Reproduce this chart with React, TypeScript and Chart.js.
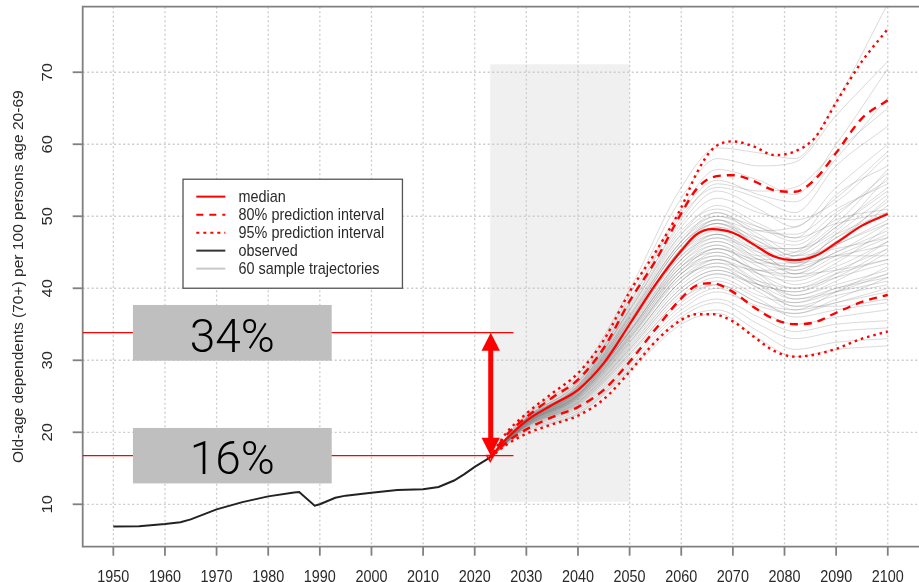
import { useEffect, useRef } from "react";
import { Chart, registerables } from "chart.js";

Chart.register(...registerables);

// ---------- data ----------
const observedYears = [1950, 1955, 1960, 1963, 1965, 1970, 1975, 1980, 1985, 1986, 1989, 1990, 1993, 1995, 2000, 2005, 2010, 2013, 2016, 2018, 2020, 2023];
const observedValues = [6.9, 6.95, 7.25, 7.5, 7.9, 9.3, 10.3, 11.1, 11.65, 11.7, 9.8, 10.0, 10.9, 11.2, 11.6, 12.0, 12.1, 12.4, 13.3, 14.2, 15.2, 16.5];

const projYears = [2023, 2026, 2030, 2035, 2040, 2045, 2050, 2055, 2060, 2063, 2066, 2070, 2074, 2078, 2082, 2086, 2090, 2095, 2100];
const medianValues = [16.5, 19.0, 21.6, 23.8, 25.9, 29.6, 35.0, 40.5, 45.2, 47.5, 48.2, 47.7, 46.1, 44.4, 43.9, 44.5, 46.3, 48.7, 50.3];
const upper95Values = [16.5, 19.8, 22.6, 25.4, 28.2, 32.8, 39.5, 45.0, 51.2, 56.0, 59.3, 60.4, 59.7, 58.5, 59.0, 61.0, 65.8, 71.5, 76.0];
const upper80Values = [16.5, 19.5, 22.1, 24.8, 27.3, 31.7, 38.2, 43.8, 50.4, 53.8, 55.4, 55.7, 54.9, 53.6, 53.4, 55.2, 58.8, 63.6, 66.1];
const lower80Values = [16.5, 18.5, 20.4, 22.1, 23.5, 25.9, 29.8, 34.3, 38.6, 40.4, 40.7, 39.5, 37.4, 35.7, 35.0, 35.3, 36.6, 38.1, 39.1];
const lower95Values = [16.5, 18.2, 19.8, 21.1, 22.3, 24.6, 28.4, 32.6, 35.6, 36.4, 36.4, 35.4, 33.3, 31.3, 30.5, 30.8, 31.6, 33.0, 34.0];

const trajYears = [2023, 2030, 2040, 2050, 2060, 2067, 2075, 2082, 2090, 2100];
const sampleTrajectories = [
  [16.5, 22.6, 27.9, 39.8, 54.0, 59.5, 58.8, 58.0, 66.0, 79.5],
  [16.5, 22.4, 27.5, 39.0, 52.5, 58.0, 57.0, 57.5, 64.0, 71.5],
  [16.5, 22.3, 27.2, 38.5, 51.0, 56.5, 55.0, 53.0, 60.0, 70.5],
  [16.5, 22.1, 26.8, 37.8, 50.0, 54.0, 52.5, 50.5, 57.0, 62.5],
  [16.5, 22.0, 26.9, 37.5, 49.0, 53.5, 51.0, 48.5, 54.0, 60.0],
  [16.5, 21.9, 26.5, 37.0, 48.5, 52.5, 50.5, 49.5, 52.0, 58.5],
  [16.5, 21.9, 26.4, 36.8, 48.0, 51.0, 48.5, 46.5, 50.5, 55.0],
  [16.5, 21.8, 26.3, 36.5, 47.5, 51.5, 49.0, 47.0, 53.0, 57.0],
  [16.5, 21.8, 26.2, 36.3, 47.0, 50.0, 47.5, 45.0, 48.5, 53.5],
  [16.5, 21.7, 26.0, 36.0, 46.5, 50.5, 48.0, 47.5, 51.0, 54.5],
  [16.5, 21.7, 26.1, 35.8, 46.0, 49.5, 46.5, 44.0, 47.0, 52.0],
  [16.5, 21.7, 25.9, 35.5, 46.0, 49.0, 47.0, 46.0, 49.5, 51.0],
  [16.5, 21.6, 25.8, 35.3, 45.5, 48.5, 45.5, 43.5, 46.0, 49.5],
  [16.5, 21.6, 25.7, 35.2, 45.5, 49.0, 46.0, 45.5, 48.0, 55.5],
  [16.5, 21.6, 25.8, 35.0, 45.0, 48.0, 45.0, 42.5, 45.0, 48.0],
  [16.5, 21.5, 25.6, 34.8, 45.0, 48.5, 46.5, 44.5, 47.5, 50.5],
  [16.5, 21.5, 25.5, 34.6, 44.5, 47.5, 44.5, 42.0, 44.5, 47.5],
  [16.5, 21.5, 25.6, 34.5, 44.0, 47.0, 45.0, 44.0, 46.5, 52.5],
  [16.5, 21.4, 25.4, 34.3, 44.0, 46.5, 43.5, 41.5, 43.0, 46.5],
  [16.5, 21.4, 25.3, 34.0, 43.5, 46.5, 44.0, 43.0, 45.0, 49.0],
  [16.5, 21.4, 25.2, 33.8, 43.0, 46.0, 43.5, 42.5, 44.5, 44.5],
  [16.5, 21.3, 25.1, 33.6, 43.0, 45.5, 43.0, 40.5, 42.5, 45.5],
  [16.5, 21.3, 25.0, 33.4, 42.5, 45.5, 43.5, 43.5, 47.0, 50.5],
  [16.5, 21.3, 25.1, 33.2, 42.0, 45.0, 42.0, 40.0, 41.5, 43.5],
  [16.5, 21.2, 24.9, 33.0, 42.0, 44.5, 42.5, 41.5, 44.0, 47.0],
  [16.5, 21.2, 24.8, 32.8, 41.5, 44.0, 41.0, 39.0, 40.5, 42.5],
  [16.5, 21.2, 24.7, 32.6, 41.0, 44.0, 42.0, 41.0, 43.5, 48.5],
  [16.5, 21.1, 24.6, 32.4, 41.0, 43.5, 40.5, 38.5, 40.0, 41.5],
  [16.5, 21.1, 24.5, 32.2, 40.5, 43.0, 41.0, 40.0, 42.0, 44.0],
  [16.5, 21.0, 24.4, 32.0, 40.0, 42.5, 40.0, 37.5, 39.0, 40.5],
  [16.5, 21.0, 24.3, 31.8, 40.0, 42.5, 40.5, 39.5, 41.5, 45.5],
  [16.5, 21.0, 24.2, 31.5, 39.5, 42.0, 39.5, 37.0, 38.0, 39.5],
  [16.5, 20.9, 24.1, 31.3, 39.0, 41.5, 39.0, 38.0, 40.0, 42.0],
  [16.5, 20.9, 24.0, 31.0, 38.5, 41.0, 38.5, 36.0, 37.0, 38.0],
  [16.5, 20.8, 23.8, 30.7, 38.0, 40.5, 38.0, 37.0, 39.5, 43.0],
  [16.5, 20.8, 23.7, 30.4, 37.5, 40.0, 37.0, 35.0, 36.0, 37.0],
  [16.5, 20.7, 23.5, 30.0, 37.0, 39.5, 37.5, 36.5, 38.0, 40.0],
  [16.5, 20.6, 23.3, 29.6, 36.5, 38.5, 36.0, 34.0, 35.0, 35.5],
  [16.5, 20.5, 23.0, 29.2, 36.0, 38.0, 35.0, 33.0, 34.0, 34.5],
  [16.5, 20.3, 22.7, 28.8, 35.5, 37.0, 34.0, 31.5, 32.5, 33.0],
  [16.5, 20.1, 22.5, 28.5, 35.0, 36.5, 33.0, 30.5, 31.5, 32.0],
  [16.5, 21.8, 26.5, 37.2, 49.5, 54.5, 53.5, 54.0, 59.0, 65.0],
  [16.5, 22.0, 27.0, 38.0, 50.5, 55.0, 53.0, 52.0, 58.0, 66.5],
  [16.5, 21.9, 26.6, 37.0, 47.5, 50.5, 47.0, 44.5, 45.5, 47.0],
  [16.5, 21.8, 26.3, 36.2, 46.5, 49.5, 45.5, 42.0, 42.5, 44.0],
  [16.5, 21.6, 25.9, 35.5, 45.0, 47.5, 44.0, 43.0, 47.5, 53.0],
  [16.5, 21.5, 25.6, 34.9, 44.5, 47.0, 44.5, 45.0, 50.0, 56.0],
  [16.5, 21.4, 25.4, 34.2, 43.0, 45.0, 41.5, 38.5, 39.5, 41.0],
  [16.5, 21.3, 25.2, 33.9, 42.5, 44.5, 42.5, 42.0, 46.0, 51.5],
  [16.5, 21.2, 25.0, 33.5, 42.5, 45.5, 44.0, 44.5, 48.5, 54.0],
  [16.5, 21.1, 24.8, 33.0, 41.5, 43.0, 40.0, 38.0, 39.5, 42.0],
  [16.5, 21.0, 24.6, 32.5, 41.0, 43.5, 42.5, 43.0, 46.0, 49.0],
  [16.5, 21.5, 25.7, 35.0, 45.5, 49.5, 48.0, 48.5, 52.5, 59.0],
  [16.5, 21.7, 26.1, 36.0, 46.5, 50.0, 48.5, 47.0, 49.0, 50.5],
  [16.5, 21.4, 25.3, 34.0, 43.5, 46.0, 42.0, 39.0, 41.0, 45.0],
  [16.5, 21.2, 24.9, 33.2, 42.0, 44.0, 40.5, 37.5, 37.5, 38.5],
  [16.5, 20.9, 24.2, 31.6, 39.5, 42.0, 40.5, 39.5, 42.0, 46.5],
  [16.5, 21.3, 25.2, 34.0, 44.0, 47.5, 45.5, 45.5, 49.0, 56.5],
  [16.5, 21.6, 25.9, 35.6, 46.0, 49.0, 46.0, 43.5, 44.5, 46.0],
  [16.5, 20.8, 23.9, 30.9, 38.5, 40.5, 38.0, 36.5, 38.5, 41.5],
];

const xTickValues = [1950, 1960, 1970, 1980, 1990, 2000, 2010, 2020, 2030, 2040, 2050, 2060, 2070, 2080, 2090, 2100];
const yTickValues = [10, 20, 30, 40, 50, 60, 70];
const yAxisTitle = "Old-age dependents (70+) per 100 persons age 20-69";

const legendLabels = ["median", "80% prediction interval", "95% prediction interval", "observed", "60 sample trajectories"];

// annotation values (data units)
const shadeYears = [2023, 2050];
const shadeValues = [10.36, 71.1];
const levelValues = [33.83, 16.75];
const levelLabels = ["34%", "16%"];
const levelLineEndYear = 2027.5;
const labelBoxYears = [1953.8, 1992.3];
const labelBoxValues = [
  [29.94, 37.68],
  [12.9, 20.6],
];
const arrowYear = 2023.1;
const legendBoxYears = [1963.5, 2006.0];
const legendBoxTopValue = 55.14;

// ---------- styling ----------
const SY = 1.15; // vertical stretch of R text
const AXIS_FONT = "14.4px 'Liberation Sans', Arial, sans-serif";
const TEXT_COLOR = "#2a2a2a";
const FRAME_COLOR = "#808080";
const RED = "#ff0000";

function stretchedText(
  ctx: CanvasRenderingContext2D,
  text: string,
  x: number,
  y: number,
  align: CanvasTextAlign,
  baseline: CanvasTextBaseline,
  rotated: boolean,
  stretch: number = SY,
  font: string = AXIS_FONT,
  color: string = TEXT_COLOR
) {
  ctx.save();
  ctx.translate(x, y);
  if (rotated) {
    ctx.rotate(-Math.PI / 2);
    ctx.scale(stretch, 1);
  } else {
    ctx.scale(1, stretch);
  }
  ctx.font = font;
  ctx.fillStyle = color;
  ctx.textAlign = align;
  ctx.textBaseline = baseline;
  ctx.fillText(text, 0, 0);
  ctx.restore();
}

const rPlotPlugin = {
  id: "rPlot",
  beforeDraw(chart: any) {
    const { ctx, chartArea, scales } = chart;
    const xs = scales.x;
    const ys = scales.y;
    ctx.save();
    ctx.fillStyle = "#ffffff";
    ctx.fillRect(0, 0, chart.width, chart.height);
    // shaded region
    const sx0 = xs.getPixelForValue(shadeYears[0]);
    const sx1 = xs.getPixelForValue(shadeYears[1]);
    const sy0 = ys.getPixelForValue(shadeValues[1]);
    const sy1 = ys.getPixelForValue(shadeValues[0]);
    ctx.fillStyle = "#f0f0f0";
    ctx.fillRect(sx0, sy0, sx1 - sx0, sy1 - sy0);
    // dotted grid
    ctx.strokeStyle = "#cccccc";
    ctx.lineWidth = 1.3;
    ctx.setLineDash([2, 2.5]);
    for (const t of xTickValues) {
      const px = xs.getPixelForValue(t);
      ctx.beginPath();
      ctx.moveTo(px, chartArea.top);
      ctx.lineTo(px, chartArea.bottom);
      ctx.stroke();
    }
    for (const t of yTickValues) {
      const py = ys.getPixelForValue(t);
      ctx.beginPath();
      ctx.moveTo(chartArea.left, py);
      ctx.lineTo(chartArea.right, py);
      ctx.stroke();
    }
    ctx.restore();
  },
  afterDatasetsDraw(chart: any) {
    const { ctx, chartArea, scales } = chart;
    const xs = scales.x;
    const ys = scales.y;
    ctx.save();
    ctx.strokeStyle = FRAME_COLOR;
    ctx.lineWidth = 1.8;
    ctx.setLineDash([]);
    ctx.beginPath();
    ctx.moveTo(chartArea.right + 2, chartArea.top);
    ctx.lineTo(chartArea.left, chartArea.top);
    ctx.lineTo(chartArea.left, chartArea.bottom);
    ctx.lineTo(chartArea.right + 2, chartArea.bottom);
    ctx.stroke();
    // ticks
    for (const t of xTickValues) {
      const px = xs.getPixelForValue(t);
      ctx.beginPath();
      ctx.moveTo(px, chartArea.bottom);
      ctx.lineTo(px, chartArea.bottom + 9);
      ctx.stroke();
      stretchedText(ctx, String(t), px, chartArea.bottom + 35, "center", "alphabetic", false);
    }
    for (const t of yTickValues) {
      const py = ys.getPixelForValue(t);
      ctx.beginPath();
      ctx.moveTo(chartArea.left - 10, py);
      ctx.lineTo(chartArea.left, py);
      ctx.stroke();
      stretchedText(ctx, String(t), chartArea.left - 31, py, "center", "alphabetic", true);
    }
    stretchedText(
      ctx,
      yAxisTitle,
      chartArea.left - 60,
      (chartArea.top + chartArea.bottom) / 2,
      "center",
      "alphabetic",
      true,
      1.08
    );
    ctx.restore();
  },
  afterDraw(chart: any) {
    const { ctx, chartArea, scales } = chart;
    const xs = scales.x;
    const ys = scales.y;
    ctx.save();
    // red level lines
    const lineEnd = xs.getPixelForValue(levelLineEndYear);
    ctx.strokeStyle = RED;
    ctx.lineWidth = 1.3;
    for (const v of levelValues) {
      const py = ys.getPixelForValue(v);
      ctx.beginPath();
      ctx.moveTo(chartArea.left, py);
      ctx.lineTo(lineEnd, py);
      ctx.stroke();
    }
    // gray label boxes
    const bx0 = xs.getPixelForValue(labelBoxYears[0]);
    const bx1 = xs.getPixelForValue(labelBoxYears[1]);
    labelBoxValues.forEach((range, i) => {
      const top = ys.getPixelForValue(range[1]);
      const bottom = ys.getPixelForValue(range[0]);
      ctx.fillStyle = "#bfbfbf";
      ctx.fillRect(bx0, top, bx1 - bx0, bottom - top);
      ctx.fillStyle = "#000000";
      ctx.font = "300 46px Roboto, 'Liberation Sans', sans-serif";
      ctx.textAlign = "center";
      ctx.textBaseline = "alphabetic";
      ctx.fillText(levelLabels[i], (bx0 + bx1) / 2, bottom - 9);
    });
    // double arrow
    const ax = xs.getPixelForValue(arrowYear);
    const yTop = ys.getPixelForValue(levelValues[0]);
    const yBot = ys.getPixelForValue(levelValues[1]);
    const headL = 18;
    const headW = 9.2;
    ctx.fillStyle = RED;
    ctx.fillRect(ax - 2.5, yTop + headL - 1, 5, yBot - yTop - 2 * headL + 2);
    ctx.beginPath();
    ctx.moveTo(ax, yTop);
    ctx.lineTo(ax - headW, yTop + headL);
    ctx.lineTo(ax + headW, yTop + headL);
    ctx.closePath();
    ctx.fill();
    ctx.beginPath();
    ctx.moveTo(ax, yBot);
    ctx.lineTo(ax - headW, yBot - headL);
    ctx.lineTo(ax + headW, yBot - headL);
    ctx.closePath();
    ctx.fill();

    // legend
    const lx0 = xs.getPixelForValue(legendBoxYears[0]);
    const lx1 = xs.getPixelForValue(legendBoxYears[1]);
    const ly0 = ys.getPixelForValue(legendBoxTopValue);
    const lh = 109;
    ctx.fillStyle = "#ffffff";
    ctx.fillRect(lx0, ly0, lx1 - lx0, lh);
    ctx.strokeStyle = "#555555";
    ctx.lineWidth = 1.3;
    ctx.strokeRect(lx0, ly0, lx1 - lx0, lh);
    const styles = [
      { color: RED, dash: [] as number[] },
      { color: RED, dash: [7, 6] },
      { color: RED, dash: [3, 4] },
      { color: "#333333", dash: [] as number[] },
      { color: "#c8c8c8", dash: [] as number[] },
    ];
    legendLabels.forEach((label, i) => {
      const ry = ly0 + 17.4 + i * 18;
      ctx.strokeStyle = styles[i].color;
      ctx.lineWidth = 2;
      ctx.setLineDash(styles[i].dash);
      ctx.beginPath();
      ctx.moveTo(lx0 + 13.3, ry);
      ctx.lineTo(lx0 + 42.3, ry);
      ctx.stroke();
      ctx.setLineDash([]);
      stretchedText(ctx, label, lx0 + 55.6, ry + 5.2, "left", "alphabetic", false);
    });
    ctx.restore();
  },
};

function xy(xsArr: number[], ysArr: number[]) {
  return xsArr.map((x, i) => ({ x, y: ysArr[i] }));
}

export default function App() {
  const ref = useRef<HTMLCanvasElement | null>(null);

  useEffect(() => {
    if (!ref.current) return;
    const trajectorySets = sampleTrajectories.map((vals) => ({
      data: xy(trajYears, vals),
      borderColor: "rgba(120,120,120,0.27)",
      borderWidth: 1,
      pointRadius: 0,
      cubicInterpolationMode: "monotone" as const,
      order: 3,
    }));
    const chart = new Chart(ref.current, {
      type: "line",
      data: {
        datasets: [
          {
            label: "median",
            data: xy(projYears, medianValues),
            borderColor: RED,
            borderWidth: 2.2,
            cubicInterpolationMode: "monotone",
            pointRadius: (c: any) => (c.dataIndex === 0 ? 4 : 0),
            pointStyle: "triangle",
            rotation: 180,
            pointBackgroundColor: "rgba(0,0,0,0)",
            pointBorderColor: RED,
            pointBorderWidth: 1.5,
            order: 0,
          },
          {
            label: "80% upper",
            data: xy(projYears, upper80Values),
            borderColor: RED,
            borderWidth: 2.4,
            borderDash: [8, 6],
            cubicInterpolationMode: "monotone",
            pointRadius: 0,
            order: 0,
          },
          {
            label: "80% lower",
            data: xy(projYears, lower80Values),
            borderColor: RED,
            borderWidth: 2.4,
            borderDash: [8, 6],
            cubicInterpolationMode: "monotone",
            pointRadius: 0,
            order: 0,
          },
          {
            label: "95% upper",
            data: xy(projYears, upper95Values),
            borderColor: RED,
            borderWidth: 2.4,
            borderDash: [2.5, 4],
            cubicInterpolationMode: "monotone",
            pointRadius: 0,
            order: 0,
          },
          {
            label: "95% lower",
            data: xy(projYears, lower95Values),
            borderColor: RED,
            borderWidth: 2.4,
            borderDash: [2.5, 4],
            cubicInterpolationMode: "monotone",
            pointRadius: 0,
            order: 0,
          },
          {
            label: "observed",
            data: xy(observedYears, observedValues),
            borderColor: "#222222",
            borderWidth: 2,
            tension: 0,
            pointRadius: 0,
            order: 1,
          },
          ...trajectorySets,
        ] as any,
      },
      options: {
        animation: false,
        responsive: false,
        events: [],
        layout: { autoPadding: false, padding: { left: 82.7, top: 6.7, right: 0, bottom: 35.3 } },
        scales: {
          x: { type: "linear", display: false, min: 1944.07, max: 2106.05 },
          y: { type: "linear", display: false, min: 4.11, max: 79.1 },
        },
        plugins: {
          legend: { display: false },
          tooltip: { enabled: false },
        },
      },
      plugins: [rPlotPlugin],
    });
    return () => chart.destroy();
  }, []);

  return (
    <div style={{ position: "fixed", left: 0, top: 0, width: 919, height: 582, background: "#fff" }}>
      <canvas ref={ref} width={919} height={582} style={{ display: "block", width: 919, height: 582 }} />
    </div>
  );
}
